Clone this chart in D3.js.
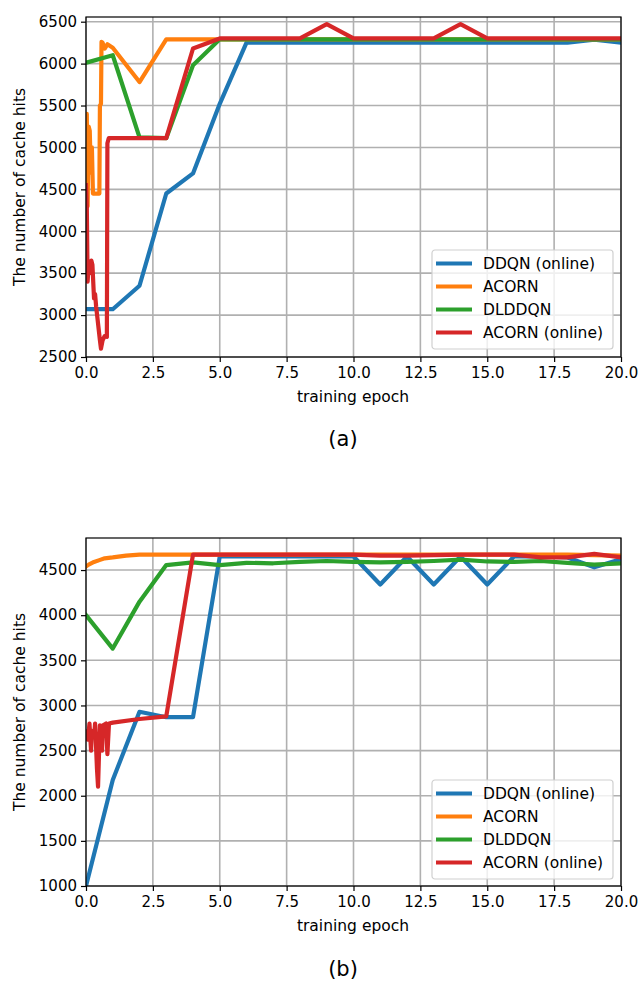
<!DOCTYPE html>
<html>
<head>
<meta charset="utf-8">
<script src="https://cdn.jsdelivr.net/npm/d3@7"></script>
<style>
  body { margin: 0; background: #fff; }
  svg text { font-family: "DejaVu Sans", sans-serif; fill: #000; }
</style>
</head>
<body>
<div id="chart"></div>
<script>
// series names and colours (matplotlib tab10)
const seriesNames = ['DDQN (online)', 'ACORN', 'DLDDQN', 'ACORN (online)'];
const seriesColors = ['#1f77b4', '#ff7f0e', '#2ca02c', '#d62728'];
const xTicks = [0, 2.5, 5, 7.5, 10, 12.5, 15, 17.5, 20];
const yTicksA = [2500, 3000, 3500, 4000, 4500, 5000, 5500, 6000, 6500];
const yTicksB = [1000, 1500, 2000, 2500, 3000, 3500, 4000, 4500];

// (a) values as [epoch, cache hits]
const ddqnA = [[0,3070],[1,3070],[2,3350],[3,4450],[4,4690],[5,5520],[6,6250],[7,6250],[8,6250],[9,6250],[10,6250],
  [11,6250],[12,6250],[13,6250],[14,6250],[15,6250],[16,6250],[17,6250],[18,6250],[19,6285],[20,6250]];
const acornA = [[0,5200],[0.03,5400],[0.06,4300],[0.1,5250],[0.14,5200],[0.18,4700],[0.22,5000],[0.26,4450],
  [0.5,4450],[0.52,5500],[0.56,5520],[0.58,6260],[0.62,6250],[0.7,6180],[0.8,6230],[1,6190],[2,5780],[3,6290],
  [4,6290],[5,6290],[6,6290],[8,6290],[10,6290],[12,6290],[14,6290],[16,6290],[18,6290],[20,6290]];
const dlddqnA = [[0,6010],[1,6100],[2,5120],[3,5110],[4,5980],[5,6290],[6,6290],[8,6290],[10,6290],[12,6290],
  [14,6290],[16,6290],[18,6290],[20,6290]];
const acornOnA = [[0,4550],[0.03,4300],[0.06,3400],[0.1,3600],[0.14,3500],[0.2,3650],[0.24,3600],[0.3,3200],
  [0.34,3250],[0.38,3100],[0.45,2900],[0.52,2700],[0.56,2600],[0.62,2700],[0.7,2750],[0.78,2740],[0.8,5050],
  [0.85,5110],[1,5110],[2,5110],[3,5110],[4,6180],[5,6300],[6,6300],[7,6300],[8,6300],[9,6470],[10,6300],
  [11,6300],[12,6300],[13,6300],[14,6470],[15,6300],[16,6300],[17,6300],[18,6300],[19,6300],[20,6300]];

// (b) values as [epoch, cache hits]
const ddqnB = [[0,1000],[1,2175],[2,2930],[3,2870],[4,2870],[5,4650],[6,4650],[7,4650],[8,4650],[9,4650],[10,4650],
  [11,4340],[12,4650],[13,4340],[14,4650],[15,4340],[16,4650],[17,4650],[18,4640],[19,4530],[20,4620]];
const acornB = [[0,4540],[0.1,4560],[0.3,4590],[0.5,4610],[0.7,4630],[1,4640],[1.5,4660],[2,4670],[4,4670],
  [6,4670],[8,4670],[10,4670],[12,4670],[14,4670],[16,4670],[18,4670],[20,4660]];
const dlddqnB = [[0,4000],[1,3630],[2,4150],[3,4555],[4,4585],[5,4555],[6,4580],[7,4575],[8,4590],[9,4600],
  [10,4590],[11,4585],[12,4590],[13,4600],[14,4615],[15,4595],[16,4590],[17,4600],[18,4580],[19,4560],[20,4575]];
const acornOnB = [[0,2710],[0.04,2700],[0.07,2620],[0.13,2800],[0.19,2500],[0.22,2720],[0.3,2650],[0.34,2800],
  [0.41,2300],[0.45,2100],[0.49,2500],[0.52,2780],[0.56,2600],[0.6,2500],[0.63,2780],[0.7,2790],[0.75,2800],
  [0.8,2460],[0.86,2800],[1,2810],[2,2850],[3,2880],[4,4670],[5,4670],[6,4670],[8,4670],[10,4670],[11,4660],
  [12,4660],[13,4665],[14,4670],[15,4670],[16,4670],[17,4640],[18,4640],[19,4680],[20,4640]];

const W = 640, H = 982;
const svg = d3.select('#chart').append('svg').attr('width', W).attr('height', H);

function panel(id, series, yDomain, yTicks, top, bottom, caption, capY, legendTop) {
  const x = d3.scaleLinear().domain([0, 20]).range([86, 621]);
  const y = d3.scaleLinear().domain(yDomain).range([bottom, top]);
  const g = svg.append('g');

  // grid
  g.append('g').selectAll('line').data(xTicks).join('line')
    .attr('x1', d => x(d)).attr('x2', d => x(d)).attr('y1', top).attr('y2', bottom)
    .attr('stroke', '#b0b0b0').attr('stroke-width', 1.6);
  g.append('g').selectAll('line').data(yTicks).join('line')
    .attr('x1', 86).attr('x2', 621).attr('y1', d => y(d)).attr('y2', d => y(d))
    .attr('stroke', '#b0b0b0').attr('stroke-width', 1.6);

  svg.append('clipPath').attr('id', id).append('rect')
    .attr('x', 86).attr('y', top).attr('width', 535).attr('height', bottom - top);

  const line = d3.line().x(d => x(d[0])).y(d => y(d[1]));
  g.append('g').attr('clip-path', `url(#${id})`).selectAll('path').data(series).join('path')
    .attr('d', line).attr('fill', 'none')
    .attr('stroke', (d, i) => seriesColors[i]).attr('stroke-width', 4.2)
    .attr('stroke-linejoin', 'round').attr('stroke-linecap', 'square');

  // axes
  const ax = g.append('g').attr('transform', `translate(0,${bottom})`)
    .call(d3.axisBottom(x).tickValues(xTicks).tickFormat(d3.format('.1f')).tickSizeOuter(0).tickSize(5));
  const ay = g.append('g').attr('transform', 'translate(86,0)')
    .call(d3.axisLeft(y).tickValues(yTicks).tickFormat(d3.format('d')).tickSizeOuter(0).tickSize(5));
  [ax, ay].forEach(a => {
    a.select('.domain').remove();
    a.selectAll('line').attr('stroke', '#000').attr('stroke-width', 1.2);
    a.selectAll('text').attr('font-size', 15).attr('font-family', '"DejaVu Sans", sans-serif');
  });
  ax.selectAll('text').attr('y', 9).attr('dy', '0.8em');
  ay.selectAll('text').attr('x', -9);

  g.append('rect').attr('x', 86).attr('y', top).attr('width', 535).attr('height', bottom - top)
    .attr('fill', 'none').attr('stroke', '#000').attr('stroke-width', 1.2);

  g.append('text').attr('x', 353).attr('y', bottom + 45).attr('text-anchor', 'middle')
    .attr('font-size', 15.5).text('training epoch');
  g.append('text').attr('transform', `translate(25,${(top + bottom) / 2}) rotate(-90)`)
    .attr('text-anchor', 'middle').attr('font-size', 15.5).text('The number of cache hits');
  g.append('text').attr('x', 343).attr('y', capY).attr('text-anchor', 'middle')
    .attr('font-size', 21).attr('font-family', '"Liberation Sans", Arial, sans-serif').text(caption);

  // legend
  const lg = g.append('g').attr('transform', `translate(432,${legendTop})`);
  lg.append('rect').attr('width', 181).attr('height', 99).attr('rx', 3)
    .attr('fill', '#fff').attr('fill-opacity', 0.8).attr('stroke', '#d0d0d0').attr('stroke-width', 1.2);
  seriesNames.forEach((name, i) => {
    const yy = 13.5 + i * 23;
    lg.append('line').attr('x1', 4).attr('x2', 40).attr('y1', yy).attr('y2', yy)
      .attr('stroke', seriesColors[i]).attr('stroke-width', 4.2);
    lg.append('text').attr('x', 51).attr('y', yy).attr('dy', '0.36em')
      .attr('font-size', 15.5).text(name);
  });
}

panel('clipA', [ddqnA, acornA, dlddqnA, acornOnA], [2500, 6556], yTicksA, 17, 357, '(a)', 446, 250);
panel('clipB', [ddqnB, acornB, dlddqnB, acornOnB], [1000, 4855], yTicksB, 538, 886, '(b)', 976, 780);
</script>
</body>
</html>
